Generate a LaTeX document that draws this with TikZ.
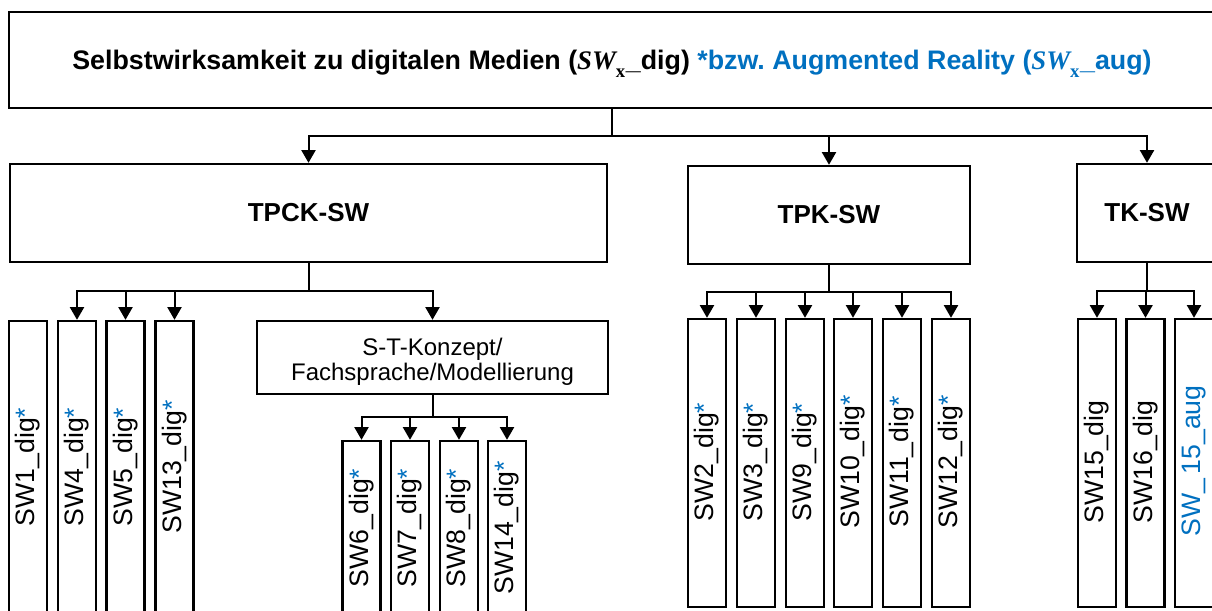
\documentclass[tikz,border=0pt]{standalone}
\usepackage{fontspec}
\setmainfont{Liberation Sans}
\newfontfamily\mserif{Liberation Serif}
\usetikzlibrary{arrows.meta}
\definecolor{swblue}{HTML}{0070C0}
\frenchspacing
\tikzset{
  box/.style={draw, line width=1.8pt, inner sep=0pt, fill=white},
  leaf/.style={box, minimum width={38*0.75pt}},
  conn/.style={line width=1.5pt},
  arr/.style={line width=1.5pt, -{Triangle[width=10.5pt,length=9.5pt]}},
  leaftext/.style={inner sep=0pt, font=\fontsize{20}{22}\selectfont},
  headtext/.style={font=\fontsize{19.5}{23}\selectfont\bfseries},
}
\newcommand\bluestar{{\color{swblue}*}}
\newcommand\leafbox[6]{% name, x, ytop, ybottom, ytext, text
  \node[leaf, minimum height={(#4-#3)*0.75pt}] (#1) at (#2,{(#3+#4)/2}) {};
  \node[leaftext, rotate=90] (#1t) at (#2,#5) {#6};
}
\newcommand\swx{{\mserif\itshape SW}\raisebox{-0.3em}{\fontsize{14}{14}\selectfont\mserif\bfseries x}\kern0.5pt}
\begin{document}
\begin{tikzpicture}[x=0.75pt, y=-0.75pt]
\useasboundingbox (0,0) rectangle (1212,610);
\clip (0,0) rectangle (1212,610);

% top
\node[box, minimum width={1206*0.75pt}, minimum height={96*0.75pt}] (top) at (612,60) {};
\node[inner sep=0pt, font=\fontsize{20.1}{24}\selectfont\bfseries] (toptext) at (612,64)
  {Selbstwirksamkeit zu digitalen Medien (\swx\_dig) {\color{swblue}*bzw.\ Augmented Reality (\swx\_aug)}};

% second level
\node[box, minimum width={597*0.75pt}, minimum height={98*0.75pt}, headtext] (tpck) at (308.5,213) {TPCK-SW};
\node[box, minimum width={282*0.75pt}, minimum height={98*0.75pt}, headtext] (tpk) at (829,215) {TPK-SW};
\node[box, minimum width={140*0.75pt}, minimum height={98*0.75pt}, headtext] (tk) at (1147,213) {TK-SW};

\coordinate (j0) at (612,136);
\draw[conn] (top.south) -- (j0);
\draw[arr] (j0) -| (tpck.north);
\draw[arr] (j0) -| (tpk.north);
\draw[arr] (j0) -| (tk.north);

% TPCK children
\leafbox{sw1}{28}{321}{625}{467}{SW1\_dig\bluestar}
\leafbox{sw4}{77}{321}{625}{467}{SW4\_dig\bluestar}
\leafbox{sw5}{125.5}{321}{625}{467}{SW5\_dig\bluestar}
\leafbox{sw13}{174.5}{321}{625}{467}{SW13\_dig\bluestar}
\node[box, minimum width={351*0.75pt}, minimum height={73*0.75pt}] (st) at (432.5,357.5) {};
\node[inner sep=0pt, align=center, font=\fontsize{18}{19}\selectfont] (sttext) at (432.5,362)
  {S-T-Konzept/\\Fachsprache/Modellierung};

\coordinate (j1) at (308.5,291);
\draw[conn] (tpck.south) -- (j1);
\draw[arr] (j1) -| (sw4.north);
\draw[arr] (j1) -| (sw5.north);
\draw[arr] (j1) -| (sw13.north);
\draw[arr] (j1) -| (st.north);

% S-T children
\leafbox{sw6}{361.5}{441}{625}{528}{SW6\_dig\bluestar}
\leafbox{sw7}{410}{441}{625}{528}{SW7\_dig\bluestar}
\leafbox{sw8}{459}{441}{625}{528}{SW8\_dig\bluestar}
\leafbox{sw14}{507}{441}{625}{528}{SW14\_dig\bluestar}
\coordinate (j2) at (432.5,417);
\draw[conn] (st.south) -- (j2);
\draw[arr] (j2) -| (sw6.north);
\draw[arr] (j2) -| (sw7.north);
\draw[arr] (j2) -| (sw8.north);
\draw[arr] (j2) -| (sw14.north);

% TPK children
\leafbox{sw2}{707}{319}{607}{462}{SW2\_dig\bluestar}
\leafbox{sw3}{756}{319}{607}{462}{SW3\_dig\bluestar}
\leafbox{sw9}{805}{319}{607}{462}{SW9\_dig\bluestar}
\leafbox{sw10}{853}{319}{607}{462}{SW10\_dig\bluestar}
\leafbox{sw11}{902}{319}{607}{462}{SW11\_dig\bluestar}
\leafbox{sw12}{951}{319}{607}{462}{SW12\_dig\bluestar}
\coordinate (j3) at (829,292);
\draw[conn] (tpk.south) -- (j3);
\foreach \n in {sw2,sw3,sw9,sw10,sw11,sw12} \draw[arr] (j3) -| (\n.north);

% TK children
\leafbox{sw15}{1097}{319}{607}{462}{SW15\_dig}
\leafbox{sw16}{1145.5}{319}{607}{462}{SW16\_dig}
\leafbox{sw15aug}{1194}{319}{607}{461}{\color{swblue}SW\_\,15\_aug}
\coordinate (j4) at (1147,291);
\draw[conn] (tk.south) -- (j4);
\draw[arr] (j4) -| (sw15.north);
\draw[arr] (j4) -| (sw16.north);
\draw[arr] (j4) -| (sw15aug.north);
\end{tikzpicture}
\end{document}
